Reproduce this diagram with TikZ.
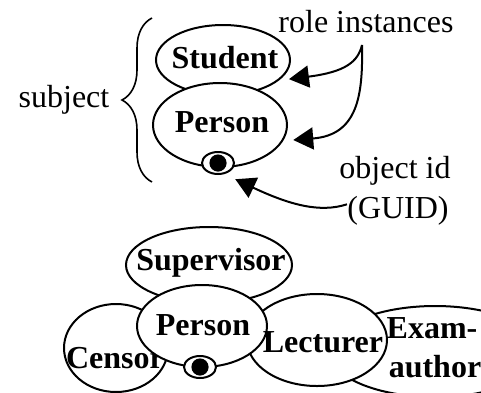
\documentclass[tikz,border=0pt]{standalone}
\usepackage{fontspec}
\setmainfont{Liberation Serif}
\usetikzlibrary{shapes.geometric,arrows.meta,decorations.pathreplacing}
\tikzset{
	role/.style={draw, ellipse, line width=1pt, fill=white, inner sep=0pt},
	lbl/.style={anchor=base, inner sep=0pt, font=\fontsize{16}{19}\selectfont\bfseries},
	note/.style={anchor=base, inner sep=0pt, font=\fontsize{16}{19}\selectfont},
	pointer/.style={line width=1pt, -{Triangle[length=10pt,width=11pt]}},
}
\def\eye(#1)#2{\node[role, minimum width=16pt, minimum height=11pt] (#2) at (#1) {}; \fill (#2) circle (4.3pt);}

\begin{document}
\begin{tikzpicture}[x=0.5pt, y=-0.5pt]
		\useasboundingbox (0, 0) rectangle (481, 392);
		\clip (0, 0) rectangle (481, 392);
		%%%%% SUBJECT %%%%%
		\node[note] (subject) at (64, 107) {subject};
		\draw[decorate, decoration={brace, amplitude=15pt}, line width=0.8pt] (152, 182) -- (152, 18);
		
		\node[role, minimum width=67pt, minimum height=35pt] (student) at (223, 60) {};
		\node[lbl] (studenttxt) at (225, 68) {Student};
		\node[role, minimum width=67pt, minimum height=42pt] (person) at (220, 125) {};
		\node[lbl] (persontxt) at (222, 132) {Person};
		\eye(218, 163){oid}
		
		\node[note] (roles) at (366, 32) {role instances};
		\coordinate (fork) at (362, 45);
		\draw[pointer, shorten >=5pt] (fork) .. controls (358, 62) and (345, 72) .. (student.-20);
		\draw[pointer, shorten >=5pt] (fork) .. controls (363, 95) and (358, 135) .. (person.-14);
		
		\node[note] (objid) at (395, 178) {object id};
		\node[note] (guid) at (398, 218) {(GUID)};
		\draw[pointer, shorten >=6pt] ([yshift=3pt]guid.west) .. controls (320, 213) and (290, 205) .. (oid.-60);
		
		%%%%% ROLES %%%%%
		\node[role, minimum width=52pt, minimum height=44pt] (censor) at (116, 348) {};
		\node[lbl] (censortxt) at (115, 368) {Censor};
		\node[role, minimum width=106pt, minimum height=45.5pt] (examauthor) at (435, 351.5) {};
		\node[lbl] (examtxt) at (432, 338) {Exam-};
		\node[lbl] (authortxt) at (435, 377) {author};
		\node[role, minimum width=70pt, minimum height=46pt] (lecturer) at (317, 340) {};
		\node[role, minimum width=83pt, minimum height=38pt] (supervisor) at (209, 265) {};
		\node[lbl] (supervisortxt) at (211, 270) {Supervisor};
		\node[role, minimum width=65pt, minimum height=41pt] (person2) at (202, 326) {};
		\node[lbl] (person2txt) at (203, 335) {Person};
		\eye(200, 367){oid2}
		\node[lbl] (lecturertxt) at (323, 352) {Lecturer};
		%%%%% END %%%%%
	\end{tikzpicture}
\end{document}
